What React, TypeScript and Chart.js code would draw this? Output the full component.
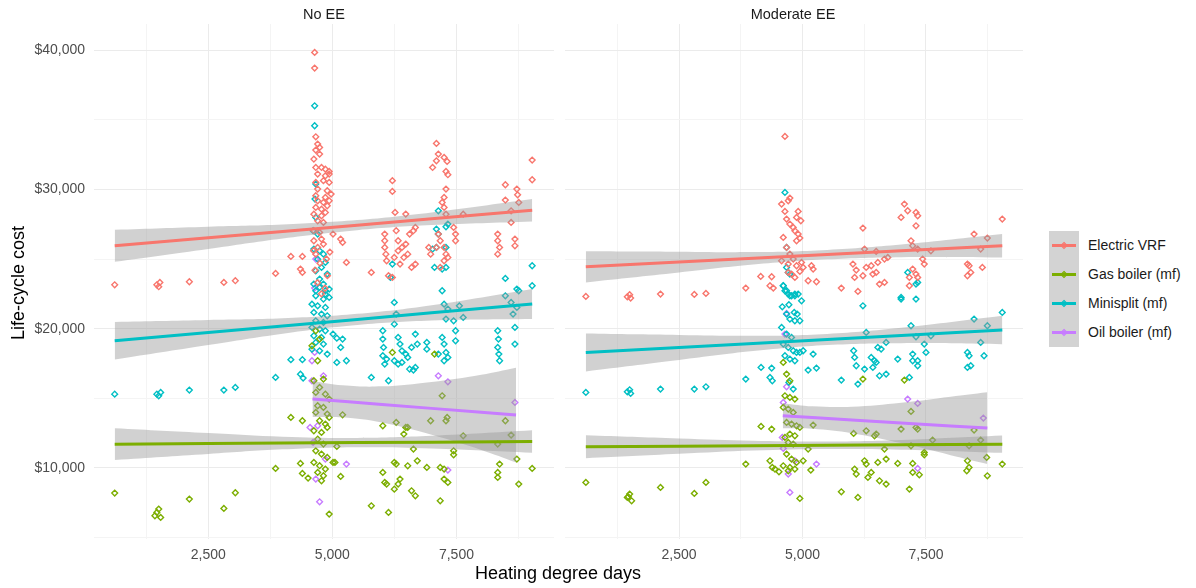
import React, { useEffect, useRef } from "react";
import { Chart, registerables } from "chart.js";
Chart.register(...registerables);

const FONT = '"Liberation Sans", Arial, Helvetica, sans-serif';

const seriesNames = ["Electric VRF", "Gas boiler (mf)", "Minisplit (mf)", "Oil boiler (mf)"];
const seriesColors = ["#F8766D", "#7CAE00", "#00BFC4", "#C77CFF"];
const panelTitles = ["No EE", "Moderate EE"];
const xAxisTitle = "Heating degree days";
const yAxisTitle = "Life-cycle cost";

const xTickValues = [1250, 2500, 3750, 5000, 6250, 7500, 8750];
const xTickLabels = ["", "2,500", "", "5,000", "", "7,500", ""];
const yTickValues = [5000, 10000, 15000, 20000, 25000, 30000, 35000, 40000];
const yTickLabels = ["", "$10,000", "", "$20,000", "", "$30,000", "", "$40,000"];
const xRange = [198, 9465];
const yRange = [4900, 41870];

// ---------- No EE panel: points [heating degree days, life-cycle cost] ----------
const noEEElectricVRF: number[][] = [
  [615, 23150], [1464, 23150], [1525, 23320], [1502, 23010], [2119, 23366], [2814, 23320], [3045, 23440],
  [3856, 23965], [4164, 25185], [4396, 25185], [4357, 24275], [4396, 24035], [4643, 39830], [4643, 38705],
  [4666, 33775], [4704, 33250], [4743, 33010], [4666, 32820], [4627, 32170], [4743, 32530], [4666, 31570],
  [4781, 31570], [4859, 31450], [4936, 31290], [4704, 31100], [4859, 30975], [4936, 31100], [4666, 30500],
  [4820, 30620], [4936, 30500], [4704, 30020], [4897, 29900], [4666, 29540], [4859, 29420], [4975, 29660],
  [4704, 29180], [4820, 29060], [4936, 29180], [4666, 28700], [4781, 28580], [4897, 28820], [4627, 28220],
  [4781, 28100], [4859, 28340], [4704, 27745], [4820, 27625], [4627, 27030], [4743, 26910], [5013, 26790],
  [5167, 26430], [5206, 26190], [4627, 26310], [4781, 26430], [4704, 25830], [4820, 26070], [4666, 25350],
  [4700, 23300], [4850, 22900], [4780, 22500], [4900, 23800], [4650, 24200], [4750, 24700], [4880, 25000],
  [4620, 25600], [4950, 25500], [5283, 24755], [5785, 24035], [6131, 23800], [6209, 23680], [6209, 30620],
  [6209, 29850], [6263, 28345], [6479, 28225], [6055, 26790], [6055, 26310], [6055, 25830], [6078, 25350],
  [6093, 24875], [6286, 27030], [6325, 26310], [6325, 25590], [6363, 24635], [6247, 25110], [6402, 25830],
  [6479, 26070], [6518, 25350], [6440, 25110], [6556, 26790], [6633, 27030], [6672, 27270], [6595, 24395],
  [6672, 24635], [6942, 25830], [6980, 25350], [7135, 26790], [7173, 26310], [7096, 25830], [7019, 31570],
  [7096, 32050], [7096, 33300], [7135, 32530], [7251, 32290], [7312, 32005], [7289, 31290], [7327, 31050],
  [7289, 30020], [7251, 29420], [7212, 29060], [7251, 28700], [7289, 28220], [7251, 25830], [7289, 25350],
  [7327, 25110], [7251, 24875], [7173, 24395], [7443, 27270], [7482, 26790], [7482, 26310], [7636, 28220],
  [8331, 26790], [8331, 26310], [8369, 25830], [8331, 25350], [8485, 30330], [8485, 29230], [8601, 28460],
  [8601, 27625], [8678, 26430], [8717, 30020], [8732, 29610], [8755, 29060], [8678, 25950], [9025, 32100],
  [9025, 30690],
];

const noEEMinisplit: number[][] = [
  [4643, 36000], [4643, 34565], [4666, 30380], [4650, 29300], [4666, 27985], [4704, 26790], [4612, 27030],
  [7135, 28460], [7327, 27505], [7289, 27315], [7096, 27150], [7135, 26790], [7289, 25830], [7019, 25710],
  [7096, 25830], [7058, 24395], [7212, 24275], [7289, 24395], [6209, 24635], [6170, 23680], [8485, 23605],
  [8717, 22840], [9025, 24515], [9025, 23080], [4627, 25710], [4743, 25590], [4820, 25350], [4704, 24990],
  [4859, 24755], [4781, 24395], [4666, 24155], [4897, 23915], [4743, 23560], [4820, 23200], [4666, 22720],
  [4859, 22480], [4936, 22840], [615, 15300], [1464, 15300], [1502, 15180], [1541, 15420], [2119, 15590],
  [2814, 15590], [3045, 15780], [3856, 16500], [4164, 17770], [4396, 17770], [4357, 16735], [4411, 16450],
  [4627, 23200], [4743, 22960], [4859, 22720], [4666, 22360], [4820, 22120], [4936, 22240], [4589, 21760],
  [4704, 21640], [4859, 21520], [4627, 21165], [4781, 21045], [4897, 20925], [4666, 20565], [4820, 20445],
  [4589, 20090], [4743, 19970], [4859, 19850], [4627, 19490], [4781, 19370], [4666, 19010], [4820, 18890],
  [4589, 18530], [4743, 18410], [4897, 18175], [5013, 19610], [5090, 19320], [5206, 19250], [5167, 18650],
  [5090, 17575], [5283, 17695], [5785, 16500], [6131, 16260], [6093, 17815], [6016, 19850], [6016, 19250],
  [6031, 18650], [6016, 18055], [6055, 17455], [6248, 21880], [6286, 21045], [6248, 20325], [6325, 19370],
  [6363, 18890], [6402, 18410], [6479, 18175], [6248, 17695], [6325, 17455], [6402, 17575], [6518, 17935],
  [6556, 17095], [6633, 17025], [6672, 17215], [6595, 18650], [6711, 18890], [6672, 19610], [6903, 19010],
  [6903, 18530], [7212, 22720], [7251, 21760], [7327, 21405], [7289, 20685], [7443, 20565], [7482, 19850],
  [7482, 19130], [7212, 19370], [7251, 18890], [7289, 18290], [7327, 17935], [7251, 17695], [7135, 18175],
  [7559, 21640], [7636, 20805], [8331, 19850], [8346, 19250], [8331, 18650], [8354, 18175], [8369, 17695],
  [8485, 22360], [8640, 21045], [8678, 20090], [8678, 18890], [8601, 21880], [8755, 22720], [8717, 21525],
];

const noEEGasBoiler: number[][] = [
  [615, 8195], [1464, 6805], [1502, 7045], [1541, 6450], [1425, 6570], [2119, 7765], [2814, 7095], [3045, 8220],
  [3856, 9965], [4164, 13625], [4396, 13388], [4357, 10325], [4396, 9606], [4511, 9272], [4666, 19850],
  [4743, 19250], [4589, 18770], [4704, 17695], [4820, 16380], [4627, 16260], [4743, 15780], [4666, 15420],
  [4859, 15300], [4936, 14945], [4704, 14465], [4820, 14345], [4666, 13985], [4897, 13865], [4936, 13625],
  [4743, 13388], [4859, 13150], [4627, 12670], [4781, 12550], [4897, 12910], [4704, 12070], [4820, 11712],
  [4666, 11230], [4781, 10995], [4897, 10755], [4627, 10400], [4743, 10160], [4859, 9917], [4704, 9678],
  [4820, 9440], [4781, 9080], [4936, 6687], [5090, 11545], [5167, 9390], [5206, 13818], [5013, 10395],
  [5052, 10395], [5785, 7285], [6016, 9678], [6055, 8960], [6093, 8840], [6131, 6805], [6016, 13030],
  [6209, 18290], [6248, 10395], [6286, 10277], [6286, 13268], [6248, 8480], [6325, 8840], [6363, 9200],
  [6440, 12430], [6479, 12910], [6518, 12910], [6518, 10157], [6595, 8362], [6672, 8003], [6633, 11353],
  [6711, 10515], [6903, 10037], [6980, 13388], [7058, 18175], [7173, 7644], [7173, 10037], [7212, 15182],
  [7251, 9917], [7289, 13388], [7312, 13627], [7251, 9200], [7327, 8960], [7443, 11234], [7443, 10947],
  [7636, 12310], [8331, 11712], [8369, 10277], [8331, 9678], [8331, 9319], [8485, 13388], [8601, 12358],
  [8717, 10635], [8755, 8840], [9025, 9965],
];

const noEEOilBoiler: number[][] = [
  [4666, 24994], [4643, 22911], [4589, 17695], [4643, 18293], [4820, 16618], [4589, 16259], [4550, 12909],
  [4612, 11832], [4704, 13029], [4859, 10636], [4666, 9200], [4743, 7572], [5283, 10277], [7135, 16618],
  [7327, 16187], [7327, 9846], [8678, 14703],
];

// ---------- Moderate EE panel ----------
const modEEElectricVRF: number[][] = [
  [4644, 33800], [4576, 28942], [4644, 28416], [4711, 29181], [4744, 29373], [4912, 28416], [4879, 27985],
  [4966, 27746], [4677, 27865], [4744, 27506], [4812, 27267], [4845, 27027], [4912, 26788], [4946, 26501],
  [4879, 26309], [4610, 26549], [4677, 25831], [4744, 25352], [4812, 24993], [4576, 24873], [4711, 24634],
  [4879, 24515], [4980, 24754], [5013, 24395], [5181, 24515], [5215, 24275], [4711, 24036], [4778, 23916],
  [4845, 23677], [4946, 24108], [4153, 23749], [4375, 23725], [4341, 23079], [4408, 22912], [3851, 22912],
  [5114, 23438], [5282, 23366], [6223, 27219], [6256, 25711], [6492, 25543], [6021, 24634], [6088, 24204],
  [6055, 23677], [6223, 23797], [6290, 24395], [6391, 24515], [6424, 23916], [6492, 24036], [6559, 23198],
  [6660, 23318], [6525, 24754], [6660, 24993], [6727, 25113], [5786, 22912], [6122, 22672], [7063, 28942],
  [7130, 28463], [6996, 27985], [7298, 28344], [7332, 28104], [7298, 27386], [7197, 26309], [7231, 25950],
  [7332, 25711], [7432, 24993], [7466, 24634], [7600, 25591], [7164, 23677], [7231, 24275], [7298, 23916],
  [7164, 23079], [7332, 23677], [8340, 24634], [8373, 24515], [8340, 23797], [8407, 24036], [8474, 26788],
  [8642, 24395], [8608, 25711], [8743, 26501], [9045, 27865], [612, 22313], [1452, 22289], [1499, 22433],
  [1519, 22194], [2124, 22481], [2809, 22457], [3044, 22529],
];

const modEEMinisplit: number[][] = [
  [4644, 29779], [4677, 25831], [4677, 24395], [4711, 24036], [4744, 23916], [4610, 23079], [4644, 22720],
  [4711, 22481], [4778, 22361], [4845, 22481], [7130, 24036], [7332, 23318], [7298, 23198], [6996, 22241],
  [7298, 22122], [612, 15422], [1452, 15469], [1499, 15613], [1519, 15350], [2124, 15661], [2809, 15661],
  [3044, 15828], [3851, 16379], [4160, 17216], [4375, 17168], [4341, 16498], [4388, 16259], [4610, 23079],
  [4677, 22720], [4744, 22361], [4845, 22361], [4912, 22481], [4980, 22002], [4590, 21571], [4724, 21715],
  [4677, 21045], [4832, 21165], [4892, 21045], [4744, 20686], [4845, 20567], [4946, 20567], [4576, 20088],
  [4677, 19609], [4778, 19370], [4610, 18891], [4711, 18652], [4812, 18413], [4879, 18293], [4644, 18054],
  [4744, 17815], [4845, 17695], [4946, 18293], [4724, 16139], [4812, 15661], [5013, 18413], [5114, 17025],
  [5215, 18174], [5282, 17168], [5786, 16307], [6035, 18413], [6055, 17934], [6088, 17336], [6122, 16020],
  [6223, 21643], [6290, 19729], [6256, 17097], [6391, 17934], [6458, 17695], [6492, 17575], [6525, 18652],
  [6559, 16618], [6693, 16738], [6693, 19011], [6592, 18532], [6424, 17216], [6928, 17815], [6996, 22122],
  [7164, 16498], [7197, 20208], [7231, 18174], [7231, 17695], [7298, 19418], [7332, 17695], [7332, 17336],
  [7466, 18891], [7500, 18293], [7600, 19490], [8340, 18293], [8373, 18054], [8340, 17216], [8407, 17336],
  [8474, 20686], [8608, 19011], [8676, 18054], [8743, 20208], [9045, 21165],
];

const modEEGasBoiler: number[][] = [
  [612, 8960], [1452, 7884], [1499, 8123], [1539, 7644], [1472, 7931], [2124, 8601], [2809, 8171], [3044, 8960],
  [3851, 10277], [4160, 12980], [4375, 12789], [4341, 10516], [4388, 10037], [4523, 9726], [4442, 9917],
  [4610, 17575], [4677, 16738], [4744, 16259], [4644, 15182], [4744, 15063], [4845, 14943], [4610, 14345],
  [4711, 14225], [4812, 13986], [4677, 13268], [4778, 13148], [4879, 13028], [4946, 12909], [4744, 12430],
  [4845, 12310], [4644, 12191], [4711, 11832], [4812, 11712], [4677, 10994], [4778, 10636], [4879, 10396],
  [4610, 10157], [4744, 10037], [4845, 9917], [4711, 9798], [4946, 7812], [5013, 10516], [5114, 11353],
  [5168, 9846], [5215, 13076], [5786, 8290], [6035, 12478], [6055, 9917], [6088, 9558], [6122, 7884],
  [6290, 12669], [6256, 10516], [6290, 10277], [6324, 9319], [6391, 9678], [6458, 12310], [6492, 12430],
  [6525, 10396], [6559, 9080], [6660, 11353], [6693, 10636], [6693, 8841], [6223, 16379], [6928, 10324],
  [6996, 12789], [7063, 16307], [7164, 8482], [7197, 14058], [7197, 11593], [7231, 10324], [7231, 9678],
  [7298, 12909], [7332, 12789], [7365, 9511], [7466, 11114], [7466, 10947], [7634, 12000], [8340, 10516],
  [8373, 10037], [8326, 9798], [8373, 11593], [8474, 12717], [8608, 11999], [8729, 10755], [8743, 9439],
  [9045, 10277],
];

const modEEOilBoiler: number[][] = [
  [4677, 21093], [4644, 19609], [4677, 15828], [4610, 14704], [4590, 12191], [4610, 11401], [4711, 9558],
  [4744, 8242], [4845, 10516], [5282, 10277], [7130, 14943], [7332, 14632], [7332, 9965], [8662, 13579],
];

// ---------- Linear fits with 95% bands ----------
const noEEFitX = [615, 2500, 4000, 5500, 7000, 9026];
const noEEOilFitX = [4600, 5200, 6000, 7000, 8000, 8700];
const modEEFitX = [611, 2500, 4000, 5500, 7000, 9046];
const modEEOilFitX = [4600, 5200, 6000, 7000, 8000, 8743];

const noEEVrfFit = [25950, 26522, 26976, 27431, 27886, 28500];
const noEEVrfHi = [27100, 27322, 27476, 27791, 28336, 29300];
const noEEVrfLo = [24800, 25722, 26476, 27071, 27436, 27700];
const noEEGasFit = [11710, 11753, 11786, 11820, 11854, 11900];
const noEEGasHi = [12850, 12503, 12236, 12150, 12304, 12700];
const noEEGasLo = [10570, 11003, 11336, 11490, 11404, 11100];
const noEEMiniFit = [19130, 19722, 20193, 20663, 21134, 21770];
const noEEMiniHi = [20480, 20622, 20743, 21063, 21684, 22850];
const noEEMiniLo = [17780, 18822, 19643, 20263, 20584, 20690];
const noEEOilFit = [14950, 14782, 14557, 14277, 13996, 13800];
const noEEOilHi = [16250, 15932, 15857, 16177, 16696, 17200];
const noEEOilLo = [13650, 13632, 13257, 12377, 11296, 10400];

const modEEVrfFit = [24440, 24778, 25047, 25315, 25584, 25950];
const modEEVrfHi = [25560, 25528, 25497, 25655, 26034, 26790];
const modEEVrfLo = [23320, 24028, 24597, 24975, 25134, 25110];
const modEEGasFit = [11520, 11563, 11596, 11630, 11664, 11710];
const modEEGasHi = [12340, 12113, 11946, 11900, 12014, 12330];
const modEEGasLo = [10700, 11013, 11246, 11360, 11314, 11090];
const modEEMiniFit = [18290, 18651, 18937, 19223, 19510, 19900];
const modEEMiniHi = [19650, 19551, 19487, 19623, 20060, 20920];
const modEEMiniLo = [16930, 17751, 18387, 18823, 18960, 18880];
const modEEOilFit = [13750, 13621, 13449, 13234, 13019, 12860];
const modEEOilHi = [14650, 14421, 14399, 14684, 15119, 15430];
const modEEOilLo = [12850, 12821, 12499, 11784, 10919, 10290];

const panelPoints = [
  [noEEElectricVRF, noEEGasBoiler, noEEMinisplit, noEEOilBoiler],
  [modEEElectricVRF, modEEGasBoiler, modEEMinisplit, modEEOilBoiler],
];
const panelFits = [
  [
    [noEEFitX, noEEVrfFit, noEEVrfHi, noEEVrfLo],
    [noEEFitX, noEEGasFit, noEEGasHi, noEEGasLo],
    [noEEFitX, noEEMiniFit, noEEMiniHi, noEEMiniLo],
    [noEEOilFitX, noEEOilFit, noEEOilHi, noEEOilLo],
  ],
  [
    [modEEFitX, modEEVrfFit, modEEVrfHi, modEEVrfLo],
    [modEEFitX, modEEGasFit, modEEGasHi, modEEGasLo],
    [modEEFitX, modEEMiniFit, modEEMiniHi, modEEMiniLo],
    [modEEOilFitX, modEEOilFit, modEEOilHi, modEEOilLo],
  ],
];

const BAND = "rgba(153,153,153,0.45)";
const GRID_MAJOR = "#EBEBEB";
const GRID_MINOR = "#F4F4F4";
const H = 588;

function buildDatasets(p: number) {
  const ds: any[] = [];
  panelPoints[p].forEach((pts, s) => {
    ds.push({
      type: "scatter",
      data: pts.map(([x, y]) => ({ x, y })),
      pointStyle: "rectRot",
      pointRadius: 2.9,
      pointBorderWidth: 1.4,
      borderColor: seriesColors[s],
      backgroundColor: "rgba(0,0,0,0)",
      showLine: false,
      order: 3,
    });
  });
  panelFits[p].forEach(([xs, fit, hi, lo], s) => {
    ds.push({
      type: "line",
      data: xs.map((x, i) => ({ x, y: hi[i] })),
      borderWidth: 0,
      pointRadius: 0,
      fill: "+1",
      backgroundColor: BAND,
      borderColor: "rgba(0,0,0,0)",
      tension: 0.4,
      order: 2,
    });
    ds.push({
      type: "line",
      data: xs.map((x, i) => ({ x, y: lo[i] })),
      borderWidth: 0,
      pointRadius: 0,
      fill: false,
      borderColor: "rgba(0,0,0,0)",
      tension: 0.4,
      order: 2,
    });
    ds.push({
      type: "line",
      data: xs.map((x, i) => ({ x, y: fit[i] })),
      borderWidth: 3,
      pointRadius: 0,
      fill: false,
      borderColor: seriesColors[s],
      tension: 0,
      order: 1,
    });
  });
  return ds;
}

function Panel(props: { p: number; left: number; width: number; padLeft: number; padRight: number; showY: boolean }) {
  const { p, left, width, padLeft, padRight, showY } = props;
  const ref = useRef<HTMLCanvasElement>(null);
  useEffect(() => {
    if (!ref.current) return;
    const chart = new Chart(ref.current, {
      type: "scatter",
      data: { datasets: buildDatasets(p) },
      options: {
        animation: false,
        responsive: false,
        maintainAspectRatio: false,
        layout: { padding: { left: padLeft, right: padRight, top: 24, bottom: 0 } },
        plugins: { legend: { display: false }, tooltip: { enabled: false }, title: { display: false } },
        scales: {
          x: {
            type: "linear",
            min: xRange[0],
            max: xRange[1],
            afterBuildTicks: (s: any) => {
              s.ticks = xTickValues.map((v) => ({ value: v }));
            },
            afterFit: (s: any) => {
              s.height = 49;
            },
            ticks: {
              autoSkip: false,
              maxRotation: 0,
              padding: 8,
              color: "#4D4D4D",
              font: { family: FONT, size: 14 },
              callback: (_v: any, i: number) => xTickLabels[i],
            },
            grid: {
              drawTicks: false,
              color: (c: any) => (xTickLabels[c.index] ? GRID_MAJOR : GRID_MINOR),
              lineWidth: 1,
            },
            border: { display: false },
          },
          y: {
            type: "linear",
            min: yRange[0],
            max: yRange[1],
            afterBuildTicks: (s: any) => {
              s.ticks = yTickValues.map((v) => ({ value: v }));
            },
            afterFit: (s: any) => {
              s.width = showY ? 94 : 0;
            },
            ticks: {
              display: showY,
              autoSkip: false,
              padding: 9,
              color: "#4D4D4D",
              font: { family: FONT, size: 14 },
              callback: (_v: any, i: number) => yTickLabels[i],
            },
            grid: {
              drawTicks: false,
              color: (c: any) => (yTickLabels[c.index] ? GRID_MAJOR : GRID_MINOR),
              lineWidth: 1,
            },
            border: { display: false },
          },
        },
      } as any,
    });
    return () => chart.destroy();
  }, []);
  return (
    <canvas
      ref={ref}
      width={width}
      height={H}
      style={{ position: "absolute", left, top: 0, width, height: H }}
    />
  );
}

export default function App() {
  return (
    <div
      style={{
        position: "fixed",
        left: 0,
        top: 0,
        width: 1196,
        height: 588,
        background: "#fff",
        overflow: "hidden",
        fontFamily: FONT,
      }}
    >
      <Panel p={0} left={0} width={560} padLeft={0} padRight={6} showY={true} />
      <Panel p={1} left={560} width={480} padLeft={3} padRight={17} showY={false} />

      <div style={{ position: "absolute", left: 224, width: 200, top: 6, textAlign: "center", fontSize: 14.5, color: "#1A1A1A" }}>
        {panelTitles[0]}
      </div>
      <div style={{ position: "absolute", left: 693, width: 200, top: 6, textAlign: "center", fontSize: 14.5, color: "#1A1A1A" }}>
        {panelTitles[1]}
      </div>

      <div
        style={{
          position: "absolute",
          left: 18 - 100,
          top: 283 - 11,
          width: 200,
          height: 22,
          lineHeight: "22px",
          textAlign: "center",
          fontSize: 18,
          color: "#000",
          transform: "rotate(-90deg)",
        }}
      >
        {yAxisTitle}
      </div>
      <div
        style={{
          position: "absolute",
          left: 558 - 150,
          top: 573 - 11,
          width: 300,
          height: 22,
          lineHeight: "22px",
          textAlign: "center",
          fontSize: 18,
          color: "#000",
        }}
      >
        {xAxisTitle}
      </div>

      <div style={{ position: "absolute", left: 1049, top: 231, width: 30, height: 116, background: "#D3D3D3" }} />
      {seriesNames.map((n, i) => (
        <React.Fragment key={n}>
          <svg
            width={30}
            height={29}
            style={{ position: "absolute", left: 1049, top: 231 + i * 29 }}
          >
            <line x1={3} x2={27} y1={14.5} y2={14.5} stroke={seriesColors[i]} strokeWidth={3} />
            <polygon
              points="15,11.5 18,14.5 15,17.5 12,14.5"
              fill="none"
              stroke={seriesColors[i]}
              strokeWidth={1.2}
            />
          </svg>
          <div
            style={{
              position: "absolute",
              left: 1088,
              top: 231 + i * 29,
              height: 29,
              lineHeight: "29px",
              fontSize: 14,
              color: "#1A1A1A",
              whiteSpace: "nowrap",
            }}
          >
            {n}
          </div>
        </React.Fragment>
      ))}
    </div>
  );
}
